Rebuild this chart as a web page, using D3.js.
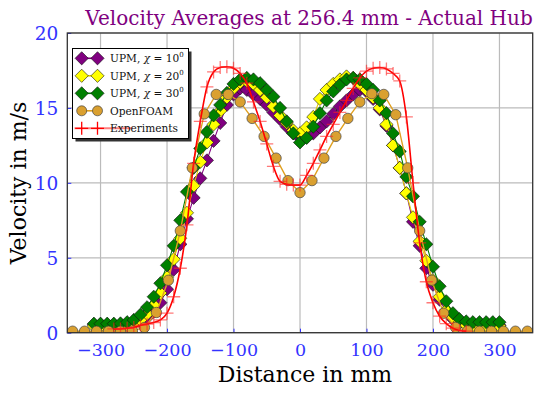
<!DOCTYPE html>
<html><head><meta charset="utf-8">
<script src="https://cdn.jsdelivr.net/npm/d3@7"></script>
<style>
html,body{margin:0;padding:0;background:#fff;}
svg{display:block;font-family:"DejaVu Serif","Liberation Serif",serif;}
</style></head>
<body><svg id="c" width="543" height="397"></svg>
<script>
// ---------- data ----------
const xTicks = [-300,-200,-100,0,100,200,300];
const yTicks = [0,5,10,15,20];
const xTickLabels = ["\u2212300","\u2212200","\u2212100","0","100","200","300"];
const yTickLabels = ["0","5","10","15","20"];

const upmX = [-310,-300,-290,-280,-270,-260,-250,-240,-230,-220,-210,-200,-190,-180,-170,-160,-150,-140,-130,-120,-110,-100,-90,-80,-70,-60,-50,-40,-30,-20,-10,0,10,20,30,40,50,60,70,80,90,100,110,120,130,140,150,160,170,180,190,200,210,220,230,240,250,260,270,280,290,300];
const upm10 = [0.55,0.55,0.55,0.55,0.55,0.55,0.6,0.75,1.0,1.4,2.0,2.9,4.2,5.9,7.6,9.0,10.3,11.5,12.8,14.0,15.2,15.9,16.3,16.2,15.9,15.6,15.2,14.7,14.25,13.75,13.3,13.0,13.05,13.3,13.7,14.1,14.6,15.1,15.5,15.9,16.2,16.1,15.6,14.9,13.8,12.5,11.0,9.3,7.4,5.8,4.3,3.2,2.2,1.4,0.9,0.65,0.55,0.5,0.5,0.5,0.5,0.5];
const upm20 = [0.45,0.45,0.45,0.45,0.45,0.5,0.6,0.85,1.25,1.85,2.65,3.7,4.9,6.3,8.0,9.8,11.4,12.7,13.9,14.8,15.7,16.3,16.7,16.8,16.6,16.2,15.7,15.1,14.5,14.0,13.5,13.3,13.7,14.4,15.6,16.2,16.6,16.9,17.1,17.0,16.6,16.2,15.7,15.0,13.9,12.5,11.0,9.3,7.7,6.1,4.8,3.5,2.4,1.5,1.0,0.7,0.5,0.45,0.45,0.45,0.45,0.45];
const upm30 = [0.6,0.6,0.6,0.6,0.62,0.7,0.85,1.2,1.7,2.4,3.3,4.5,5.8,7.5,9.4,11.0,12.3,13.4,14.5,15.2,16.0,16.6,16.9,17.0,16.9,16.65,16.2,15.75,15.0,14.1,13.3,12.7,13.0,13.75,14.65,15.5,16.1,16.55,16.9,17.0,16.9,16.6,16.2,15.5,14.65,13.3,12.1,10.4,9.1,7.4,5.9,4.4,3.1,2.1,1.3,0.9,0.75,0.7,0.7,0.7,0.7,0.7];

const foamX = [-342,-324,-306,-288,-270,-252,-234,-216,-198,-180,-162,-144,-126,-108,-90,-72,-54,-36,-18,0,18,36,54,72,90,108,126,144,162,180,198,216,234,252,270,288,306,324,342];
const foamY = [0.1,0.1,0.1,0.1,0.1,0.12,0.35,1.35,3.5,6.8,11.0,14.6,15.9,15.9,15.4,14.3,13.1,11.65,10.15,9.35,10.15,11.65,13.1,14.3,15.4,15.95,15.9,14.55,11.0,6.8,3.5,1.3,0.35,0.12,0.1,0.1,0.1,0.1,0.1];

const expX = [-280,-270,-260,-250,-240,-230,-220,-210,-200,-190,-180,-170,-160,-150,-140,-130,-120,-110,-100,-90,-80,-70,-60,-50,-40,-30,-20,-10,0,10,20,30,40,50,60,70,80,90,100,110,120,130,140,150,160,170,180,190,200,210,220,230,240,250];
const expY = [0.25,0.25,0.3,0.35,0.5,0.58,0.68,0.85,1.3,2.4,4.3,7.2,11.3,14.1,16.4,17.4,17.7,17.75,17.65,17.3,16.65,15.4,14.1,12.6,11.1,10.1,9.9,9.85,9.85,10.5,11.3,12.2,13.1,13.9,14.7,15.5,16.3,17.0,17.45,17.65,17.7,17.6,17.3,16.8,14.4,10.0,6.0,3.4,2.0,1.1,0.6,0.3,0.15,0.1];

const seriesNames = ["UPM, \u03C7 = 10","UPM, \u03C7 = 20","UPM, \u03C7 = 30","OpenFOAM","Experiments"];
const titleText = "Velocity Averages at 256.4 mm - Actual Hub";

// ---------- layout ----------
const svg = d3.select("#c");
const L = 67.3, R = 532.7, T = 33, B = 332.7;
const x = d3.scaleLinear().domain([-350,350]).range([L,R]);
const y = d3.scaleLinear().domain([0,20]).range([B,T]);
const blue = "#3333ff";

// grid
const g = svg.append("g");
g.selectAll("line.gx").data(xTicks).enter().append("line")
  .attr("x1",d=>x(d)).attr("x2",d=>x(d)).attr("y1",T).attr("y2",B)
  .attr("stroke","#bbbbbb").attr("stroke-width",1.2);
g.selectAll("line.gy").data(yTicks).enter().append("line")
  .attr("y1",d=>y(d)).attr("y2",d=>y(d)).attr("x1",L).attr("x2",R)
  .attr("stroke","#bbbbbb").attr("stroke-width",1.2);

// axes (ticks inside, blue)
const xAxis = d3.axisBottom(x).tickValues(xTicks).tickSize(-4).tickPadding(10)
  .tickFormat((d,i)=>xTickLabels[i]);
const ax = svg.append("g").attr("transform",`translate(0,${B})`).call(xAxis);
ax.select(".domain").remove();
ax.selectAll(".tick line").attr("stroke",blue);
ax.selectAll(".tick text").attr("fill",blue).attr("font-size",17.5)
  .attr("font-family","DejaVu Serif").attr("dy","0.75em");
const yAxis = d3.axisLeft(y).tickValues(yTicks).tickSize(-4).tickPadding(9)
  .tickFormat((d,i)=>yTickLabels[i]);
const ay = svg.append("g").attr("transform",`translate(${L},0)`).call(yAxis);
ay.select(".domain").remove();
ay.selectAll(".tick line").attr("stroke",blue);
ay.selectAll(".tick text").attr("fill",blue).attr("font-size",18.5)
  .attr("font-family","DejaVu Serif").attr("dy","0.35em");

// clip
svg.append("clipPath").attr("id","clip").append("rect")
  .attr("x",L).attr("y",T-10).attr("width",R-L).attr("height",B-T+10);
const plot = svg.append("g").attr("clip-path","url(#clip)");

const diamond = r => `M0,${-r}L${r},0L0,${r}L${-r},0Z`;
const lineGen = (xs,ys,curve) => d3.line().x((d,i)=>x(xs[i])).y((d,i)=>y(ys[i])).curve(curve||d3.curveLinear)(ys);

const upmSeries = [
  {ys:upm10, color:"#800080"},
  {ys:upm20, color:"#ffff00", line:"#e0d000"},
  {ys:upm30, color:"#008000"}
];
upmSeries.forEach(s=>{
  plot.append("path").attr("d",lineGen(upmX,s.ys)).attr("fill","none")
    .attr("stroke",s.line||s.color).attr("stroke-width",1.1);
  plot.selectAll(null).data(s.ys).enter().append("path")
    .attr("d",diamond(6.6))
    .attr("transform",(d,i)=>`translate(${x(upmX[i])},${y(d)})`)
    .attr("fill",s.color).attr("stroke","#111").attr("stroke-width",0.6);
});

// OpenFOAM
plot.append("path").attr("d",lineGen(foamX,foamY)).attr("fill","none")
  .attr("stroke","#e0a020").attr("stroke-width",1.4);
plot.selectAll(null).data(foamY).enter().append("circle")
  .attr("cx",(d,i)=>x(foamX[i])).attr("cy",d=>y(d)).attr("r",5.2)
  .attr("fill","#daa030").attr("stroke","#444").attr("stroke-width",0.7);

// Experiments
plot.append("path").attr("d",lineGen(expX,expY,d3.curveMonotoneX)).attr("fill","none")
  .attr("stroke","#ff0000").attr("stroke-width",1.6);
const plus = s => `M${-s},0H${s}M0,${-s}V${s}`;
plot.selectAll(null).data(expY).enter().append("path")
  .attr("d",plus(6.5))
  .attr("transform",(d,i)=>`translate(${x(expX[i])},${y(d)})`)
  .attr("fill","none").attr("stroke","#ff2020").attr("stroke-opacity",0.6).attr("stroke-width",1.3);

// frame
svg.append("rect").attr("x",L).attr("y",T).attr("width",R-L).attr("height",B-T)
  .attr("fill","none").attr("stroke","#333").attr("stroke-width",1.3);

// legend
const lg = svg.append("g");
const lx = 72.5, ly = 48.5, lw = 116, lh = 90;
lg.append("rect").attr("x",lx+3).attr("y",ly+3).attr("width",lw).attr("height",lh).attr("fill","#333");
lg.append("rect").attr("x",lx).attr("y",ly).attr("width",lw).attr("height",lh).attr("fill","#fff")
  .attr("stroke","#000").attr("stroke-width",1);
const rowY = [58.3,75.8,93.3,110.8,128.3];
const m1 = 81.7, m2 = 97.5;
const legStyles = [
  {type:"d", fill:"#800080", line:"#800080"},
  {type:"d", fill:"#ffff00", line:"#e0d000"},
  {type:"d", fill:"#008000", line:"#008000"},
  {type:"c", fill:"#daa030", line:"#e0a020"},
  {type:"p", line:"#ff8080"}
];
legStyles.forEach((s,i)=>{
  const yy = rowY[i];
  if(s.type==="p"){
    lg.append("line").attr("x1",lx+2).attr("x2",lx+60).attr("y1",yy).attr("y2",yy)
      .attr("stroke",s.line).attr("stroke-width",2);
  } else {
    lg.append("line").attr("x1",m1).attr("x2",m2).attr("y1",yy).attr("y2",yy)
      .attr("stroke",s.line).attr("stroke-width",1.6);
  }
  [m1,m2].forEach(mx=>{
    if(s.type==="d") lg.append("path").attr("d",diamond(6.6)).attr("transform",`translate(${mx},${yy})`)
      .attr("fill",s.fill).attr("stroke","#111").attr("stroke-width",0.6);
    else if(s.type==="c") lg.append("circle").attr("cx",mx).attr("cy",yy).attr("r",5)
      .attr("fill",s.fill).attr("stroke","#444").attr("stroke-width",0.7);
    else lg.append("path").attr("d",plus(6.5)).attr("transform",`translate(${mx},${yy})`)
      .attr("stroke","#ff0000").attr("stroke-width",1.3);
  });
  const t = lg.append("text").attr("x",110).attr("y",yy+4).attr("font-size",10.6).attr("fill","#111");
  if(i<3){
    const parts = seriesNames[i].split("\u03C7");
    t.append("tspan").text(parts[0]);
    t.append("tspan").text("\u03C7").attr("font-style","italic");
    t.append("tspan").text(parts[1]);
    t.append("tspan").text("0").attr("font-size",7).attr("dy",-5);
  } else t.text(seriesNames[i]);
});

// title & labels
svg.append("text").attr("x",309).attr("y",25).attr("text-anchor","middle")
  .attr("font-size",20).attr("fill","#800080").text(titleText);
svg.append("text").attr("x",305).attr("y",382).attr("text-anchor","middle")
  .attr("font-size",22).attr("fill","#000").text("Distance in mm");
svg.append("text").attr("transform","translate(26,183) rotate(-90)").attr("text-anchor","middle")
  .attr("font-size",22).attr("fill","#000").text("Velocity in m/s");
</script></body></html>
